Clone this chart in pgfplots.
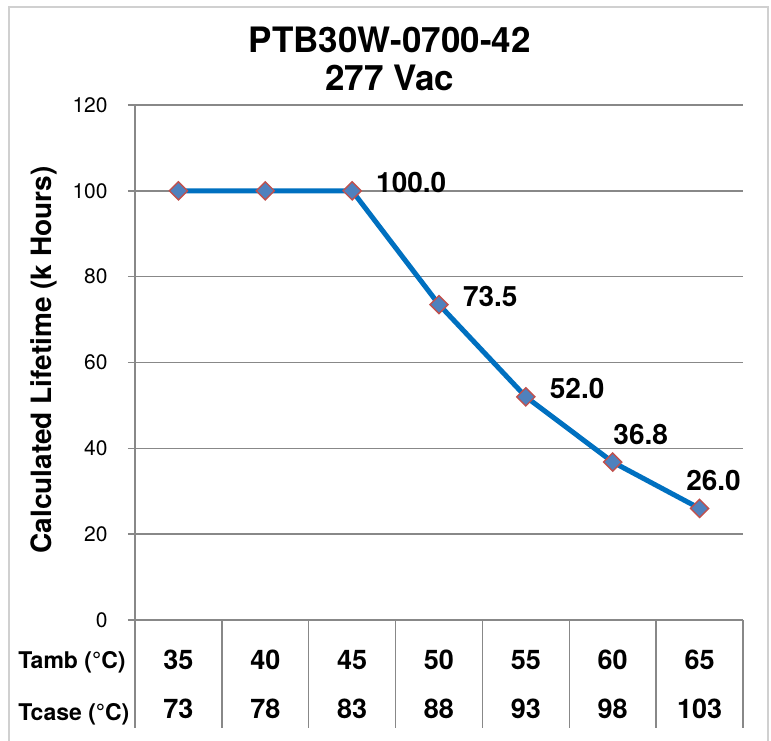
\documentclass[border=0pt]{standalone}
\usepackage{pgfplots}
\pgfplotsset{compat=1.18}
\usepackage{fontspec}
\setmainfont{TeX Gyre Heros}

\definecolor{gridgray}{HTML}{888888}
\definecolor{framegray}{HTML}{D0D0D0}
\definecolor{lineblue}{HTML}{0070C0}
\definecolor{markfill}{HTML}{4F81BD}
\definecolor{markedge}{HTML}{C0504D}

\begin{document}
\begin{tikzpicture}
% page = 771x740 px at 0.5pt per px, axis origin at px (135,620)
\useasboundingbox (-67.5pt,-60pt) rectangle (318pt,310pt);
\draw[framegray, line width=0.8pt] (-63pt,-61pt) -- (-63pt,306.5pt) -- (316.5pt,306.5pt) -- (316.5pt,-61pt);

\begin{axis}[
    scale only axis,
    width=304pt, height=257.5pt,
    xmin=-0.5, xmax=6.5,
    ymin=0, ymax=120,
    ytick={0,20,...,120},
    xtick={0,...,6},
    xticklabels={35,40,45,50,55,60,65},
    extra x ticks={0,...,6},
    extra x tick labels={73,78,83,88,93,98,103},
    extra x tick style={grid=none, major tick length=0pt,
        xticklabel style={yshift=-28pt}},
    axis x line*=bottom, axis y line*=left,
    axis line style={gridgray, line width=0.75pt},
    ymajorgrids,
    grid style={gridgray, line width=0.75pt},
    tick align=outside,
    major tick length=3.5pt,
    x tick style={draw=none},
    y tick style={gridgray, line width=0.75pt},
    tick label style={/pgf/number format/assume math mode=true},
    yticklabel style={font=\fontsize{10.5}{12}\selectfont, anchor=east, inner xsep=10pt},
    xticklabel style={font=\fontsize{13.5}{16}\selectfont\bfseries, anchor=base, yshift=-21pt},
    clip=false,
]
\pgfplotsinvokeforeach{-0.5,0.5,...,6.5}{
  \draw[gridgray, line width=0.75pt] (axis cs:#1,0) -- ++(0pt,-54pt);
}

\addplot[lineblue, line width=2.5pt, mark=square*, mark size=3.2pt,
    mark options={rotate=45, fill=markfill, draw=markedge, line width=0.7pt}]
coordinates {
    (0, 100.0)
    (1, 100.0)
    (2, 100.0)
    (3, 73.5)
    (4, 52.0)
    (5, 36.8)
    (6, 26.0)
};

% data labels to the right
\addplot[draw=none, nodes near coords={\pgfmathprintnumber[fixed,fixed zerofill,precision=1]{\pgfplotspointmeta}},
    nodes near coords style={anchor=west, xshift=8.5pt, yshift=4pt, font=\fontsize{14}{16}\selectfont\bfseries,
        /pgf/number format/assume math mode=true}]
coordinates {
    (2, 100.0)
    (3, 73.5)
    (4, 52.0)
};
% data labels above
\addplot[draw=none, nodes near coords={\pgfmathprintnumber[fixed,fixed zerofill,precision=1]{\pgfplotspointmeta}},
    nodes near coords style={anchor=center, xshift=14pt, yshift=14pt, font=\fontsize{14}{16}\selectfont\bfseries,
        /pgf/number format/assume math mode=true}]
coordinates {
    (5, 36.8)
};
\addplot[draw=none, nodes near coords={\pgfmathprintnumber[fixed,fixed zerofill,precision=1]{\pgfplotspointmeta}},
    nodes near coords style={anchor=center, xshift=7pt, yshift=14pt, font=\fontsize{14}{16}\selectfont\bfseries,
        /pgf/number format/assume math mode=true}]
coordinates {
    (6, 26.0)
};

% row headers of the table
\node[anchor=base west, font=\fontsize{11.5}{14}\selectfont\bfseries, inner sep=0pt] at (rel axis cs:0,0) [xshift=-58.5pt, yshift=-24pt] {Tamb (°C)};
\node[anchor=base west, font=\fontsize{11.5}{14}\selectfont\bfseries, inner sep=0pt] at (rel axis cs:0,0) [xshift=-58.5pt, yshift=-50pt] {Tcase (°C)};

% title, centred on the chart area
\node[anchor=base, font=\fontsize{17.5}{20}\selectfont\bfseries] at (rel axis cs:0.419,1) [yshift=26.5pt] {PTB30W-0700-42};
\node[anchor=base, font=\fontsize{17.5}{20}\selectfont\bfseries] at (rel axis cs:0.419,1) [yshift=7pt] {277 Vac};

% y label
\node[rotate=90, yshift=45.5pt, font=\fontsize{14}{16}\selectfont\bfseries] at (rel axis cs:0,0.505) {Calculated Lifetime (k Hours)};
\end{axis}
\end{tikzpicture}
\end{document}
